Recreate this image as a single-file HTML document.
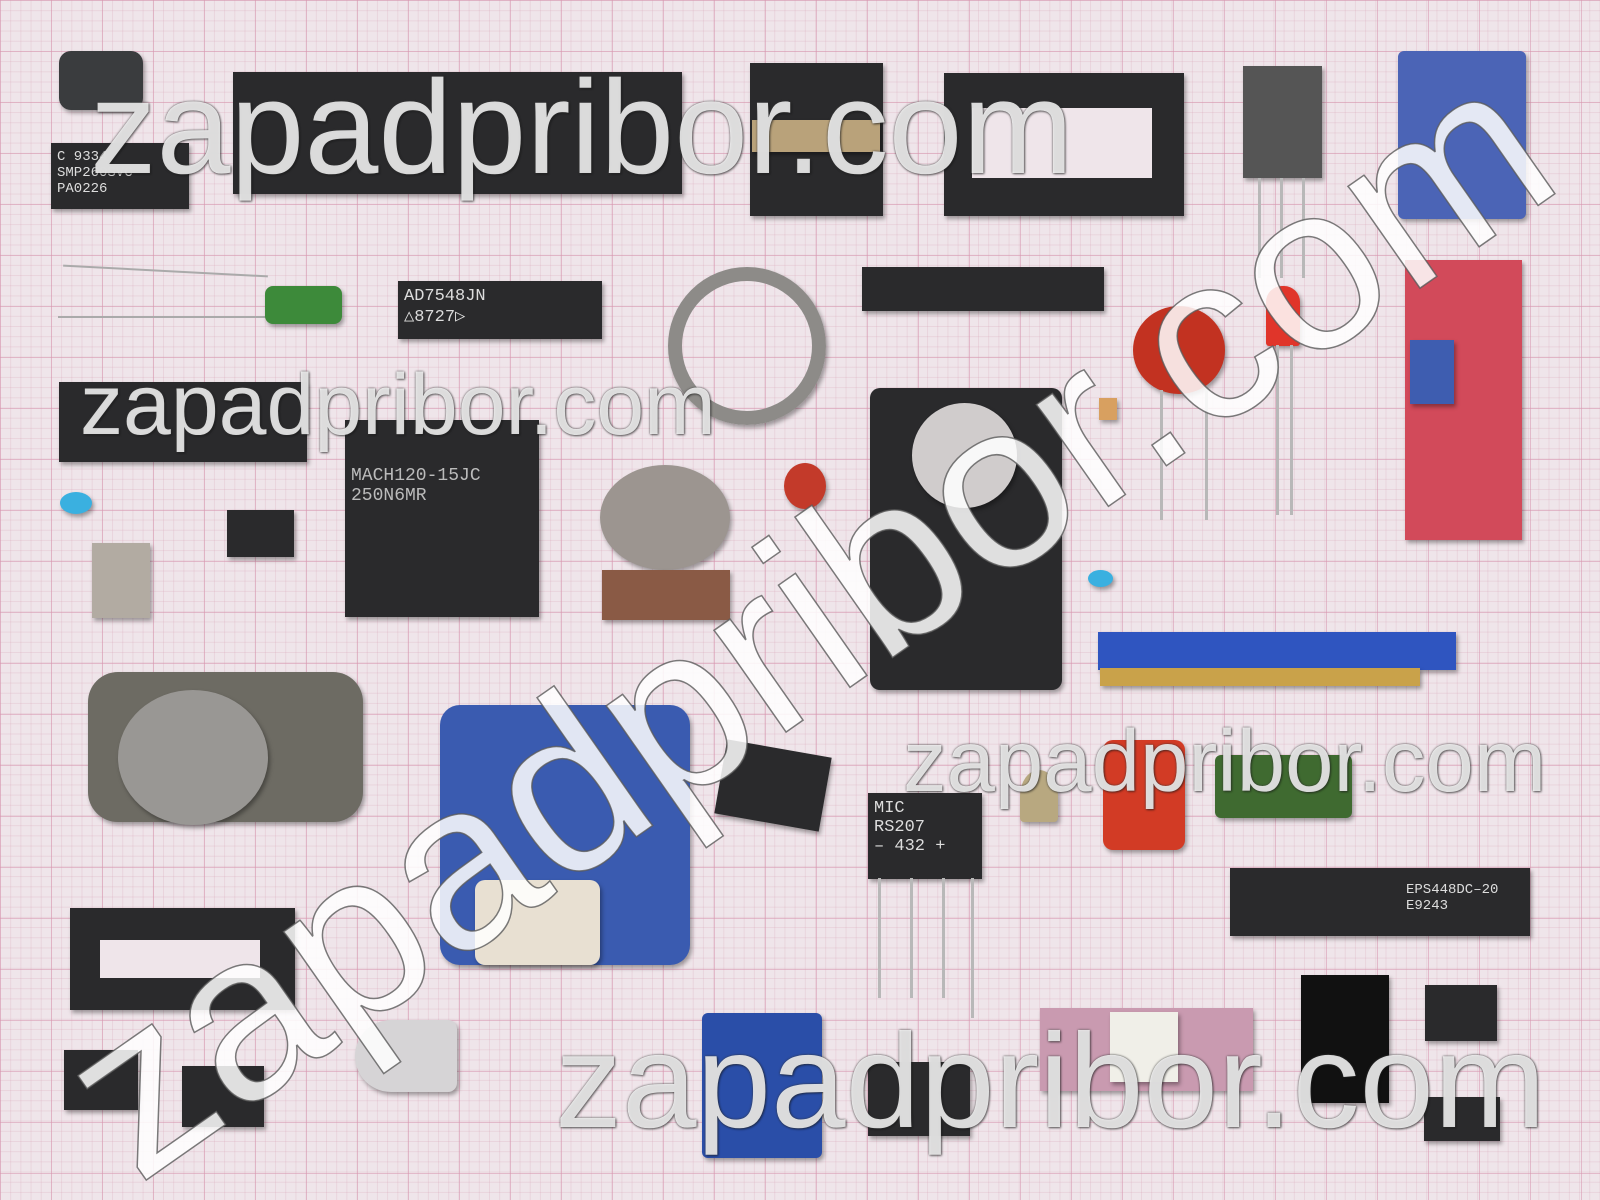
<!DOCTYPE html>
<html><head><meta charset="utf-8"><style>
html,body{margin:0;padding:0;width:1600px;height:1200px;overflow:hidden}
#p{width:1600px;height:1200px;position:relative;overflow:hidden;
background-color:#efe5ea;
background-image:
linear-gradient(rgba(215,150,175,.55) 1px,transparent 1px),
linear-gradient(90deg,rgba(215,150,175,.55) 1px,transparent 1px),
linear-gradient(rgba(215,160,180,.25) 1px,transparent 1px),
linear-gradient(90deg,rgba(215,160,180,.25) 1px,transparent 1px);
background-size:51px 51px,51px 51px,10.2px 10.2px,10.2px 10.2px;
font-family:"Liberation Sans",sans-serif}
.c{position:absolute;box-shadow:2px 3px 4px rgba(0,0,0,.35)}
.k{background:#2a2a2c}
.t{color:#ddd;font-family:"Liberation Mono",monospace;font-size:14px;padding:6px}
.w{position:absolute;color:rgba(255,255,255,.82);white-space:nowrap;
text-shadow:0 0 2px rgba(60,60,60,.9),1px 1px 2px rgba(0,0,0,.5);line-height:1}
.lead{position:absolute;background:#b8b8b8;width:3px}
</style></head><body><div id="p">
<div class="c" style="left:59px;top:51px;width:84px;height:59px;background:#3a3c3e;border-radius:12px"></div>
<div class="c k" style="left:51px;top:143px;width:138px;height:66px"><div class="t">C 9334<br>SMP260SVC<br>PA0226</div></div>
<div class="c k" style="left:233px;top:72px;width:449px;height:122px"></div>
<div class="c k" style="left:750px;top:63px;width:133px;height:153px"></div>
<div class="c" style="left:752px;top:120px;width:128px;height:32px;background:#b9a27a"></div>
<div class="c k" style="left:944px;top:73px;width:240px;height:143px;border:0"></div>
<div style="position:absolute;left:972px;top:108px;width:180px;height:70px;background:#efe5ea"></div>
<div class="c" style="left:1243px;top:66px;width:79px;height:112px;background:#555"></div>
<div class="lead" style="left:1258px;top:178px;height:100px"></div><div class="lead" style="left:1280px;top:178px;height:100px"></div><div class="lead" style="left:1302px;top:178px;height:100px"></div>
<div class="c" style="left:1398px;top:51px;width:128px;height:168px;background:#4b64b6;border-radius:6px"></div>
<div class="lead" style="left:63px;top:270px;width:205px;height:2px;background:#aaa;transform:rotate(3deg)"></div>
<div class="lead" style="left:58px;top:316px;width:210px;height:2px;background:#aaa"></div>
<div class="c" style="left:265px;top:286px;width:77px;height:38px;background:#3d8a3a;border-radius:8px"></div>
<div class="c k" style="left:398px;top:281px;width:204px;height:58px"><div class="t" style="font-size:17px">AD7548JN<br>△8727▷</div></div>
<div class="c" style="left:668px;top:267px;width:130px;height:130px;border-radius:50%;border:14px solid #8d8b88;background:transparent"></div>
<div class="c k" style="left:862px;top:267px;width:242px;height:44px"></div>
<div class="c" style="left:1133px;top:306px;width:92px;height:88px;border-radius:50%;background:#c23221"></div>
<div class="lead" style="left:1160px;top:390px;height:130px"></div><div class="lead" style="left:1205px;top:390px;height:130px"></div>
<div class="c" style="left:1266px;top:286px;width:34px;height:60px;background:#e0352a;border-radius:16px 16px 3px 3px"></div>
<div class="lead" style="left:1276px;top:345px;height:170px"></div><div class="lead" style="left:1290px;top:345px;height:170px"></div>
<div class="c" style="left:1405px;top:260px;width:117px;height:280px;background:#d24a5a"></div>
<div class="c" style="left:1410px;top:340px;width:44px;height:64px;background:#3e5db0"></div>
<div class="c k" style="left:59px;top:382px;width:248px;height:80px"></div>
<div class="c k" style="left:345px;top:420px;width:194px;height:197px"><div class="t" style="font-size:18px;margin-top:40px;color:#bbb">MACH120-15JC<br>250N6MR</div></div>
<div class="c" style="left:60px;top:492px;width:32px;height:22px;background:#3ab0e0;border-radius:50%"></div>
<div class="c k" style="left:227px;top:510px;width:67px;height:47px"></div>
<div class="c" style="left:92px;top:543px;width:58px;height:75px;background:#b2aba2"></div>
<div class="c" style="left:600px;top:465px;width:130px;height:105px;background:#9c9590;border-radius:50%"></div>
<div class="c" style="left:602px;top:570px;width:128px;height:50px;background:#8a5a45"></div>
<div class="c" style="left:784px;top:463px;width:42px;height:46px;background:#c33a2a;border-radius:50%"></div>
<div class="c" style="left:1099px;top:398px;width:18px;height:22px;background:#d8a060"></div>
<div class="c k" style="left:870px;top:388px;width:192px;height:302px;border-radius:10px"></div>
<div class="c" style="left:912px;top:403px;width:105px;height:105px;background:#d0cccc;border-radius:50%"></div>
<div class="c" style="left:1098px;top:632px;width:358px;height:38px;background:#2f55c0"></div>
<div class="c" style="left:1100px;top:668px;width:320px;height:18px;background:#c9a24a"></div>
<div class="c" style="left:1088px;top:570px;width:25px;height:17px;background:#3ab0e0;border-radius:50%"></div>
<div class="c" style="left:88px;top:672px;width:275px;height:150px;background:#6d6b63;border-radius:30px"></div>
<div class="c" style="left:118px;top:690px;width:150px;height:135px;background:#999794;border-radius:50%"></div>
<div class="c" style="left:440px;top:705px;width:250px;height:260px;background:#3a5bb0;border-radius:20px"></div>
<div class="c" style="left:475px;top:880px;width:125px;height:85px;background:#e8e0d2;border-radius:10px"></div>
<div class="c k" style="left:720px;top:748px;width:106px;height:75px;transform:rotate(10deg)"></div>
<div class="c k" style="left:868px;top:793px;width:114px;height:86px"><div class="t" style="font-size:17px">MIC<br>RS207<br>–&nbsp;432&nbsp;+</div></div>
<div class="lead" style="left:878px;top:878px;height:120px"></div><div class="lead" style="left:910px;top:878px;height:120px"></div><div class="lead" style="left:942px;top:878px;height:120px"></div><div class="lead" style="left:971px;top:878px;height:140px"></div>
<div class="c" style="left:1020px;top:770px;width:38px;height:52px;background:#b8a880;border-radius:50% 50% 4px 4px"></div>
<div class="c" style="left:1103px;top:740px;width:82px;height:110px;background:#d23b25;border-radius:10px"></div>
<div class="c" style="left:1215px;top:755px;width:137px;height:63px;background:#3f6a30;border-radius:6px"></div>
<div class="c k" style="left:1230px;top:868px;width:300px;height:68px"><div class="t" style="margin-left:170px;font-size:14px;margin-top:8px">EPS448DC–20<br>E9243</div></div>
<div class="c k" style="left:70px;top:908px;width:225px;height:102px"></div>
<div style="position:absolute;left:100px;top:940px;width:160px;height:38px;background:#efe5ea"></div>
<div class="c" style="left:355px;top:1020px;width:102px;height:72px;background:#d6d4d6;border-radius:40px 10px 10px 40px"></div>
<div class="c k" style="left:64px;top:1050px;width:74px;height:60px"></div>
<div class="c k" style="left:182px;top:1066px;width:82px;height:61px"></div>
<div class="c" style="left:702px;top:1013px;width:120px;height:145px;background:#2a4ea8;border-radius:6px"></div>
<div class="c k" style="left:868px;top:1062px;width:102px;height:74px"></div>
<div class="c" style="left:1040px;top:1008px;width:213px;height:83px;background:#c99ab0"></div>
<div class="c" style="left:1110px;top:1012px;width:68px;height:70px;background:#f0efe8"></div>
<div class="c k" style="left:1301px;top:975px;width:88px;height:128px;background:#111"></div>
<div class="c k" style="left:1425px;top:985px;width:72px;height:56px"></div>
<div class="c k" style="left:1424px;top:1097px;width:76px;height:44px"></div>
<div class="w" style="left:90px;top:62px;font-size:133px">zapadpribor.com</div>
<div class="w" style="left:80px;top:362px;font-size:86px">zapadpribor.com</div>
<div class="w" style="left:903px;top:718px;font-size:87px">zapadpribor.com</div>
<div class="w" style="left:555px;top:1015px;font-size:134px">zapadpribor.com</div>
<svg width="1600" height="1200" style="position:absolute;left:0;top:0;overflow:hidden">
<text x="806" y="700" text-anchor="middle" font-family="Liberation Sans, sans-serif" font-size="236" fill="rgba(255,255,255,0.85)" stroke="rgba(90,90,90,0.8)" stroke-width="1.5" transform="rotate(-35 806 618)">zapadpribor.com</text>
</svg>
</div></body></html>
